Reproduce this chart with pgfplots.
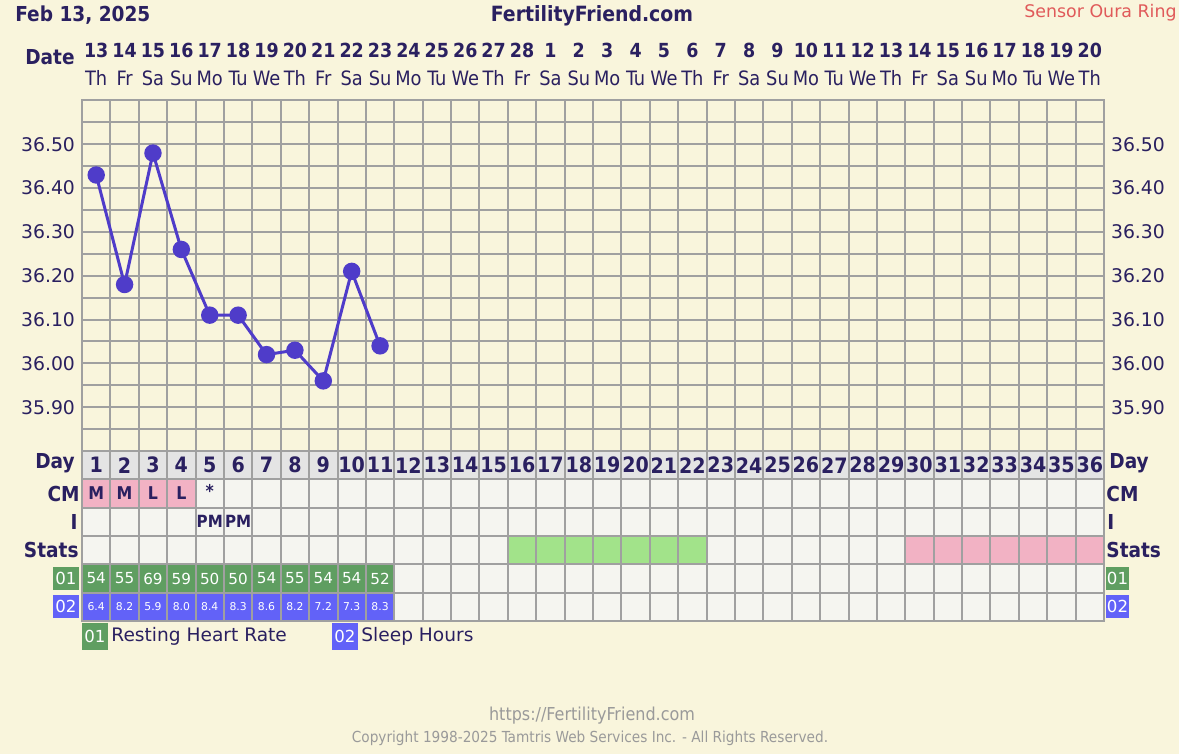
\documentclass[border=0pt]{standalone}
\usepackage{pgfplots}
\pgfplotsset{compat=1.18}
\usepackage{fontspec}
\setmainfont{DejaVu Sans}
\newfontfamily\cond{DejaVu Sans Condensed}
\definecolor{bg}{HTML}{F9F5DC}
\definecolor{navy}{HTML}{2A2060}
\definecolor{gridc}{HTML}{A0A0A0}
\definecolor{cellbg}{HTML}{F5F5F0}
\definecolor{daygray}{HTML}{E4E4E4}
\definecolor{pinkc}{HTML}{F2B2C4}
\definecolor{greenS}{HTML}{A2E38A}
\definecolor{green01}{HTML}{5F9E61}
\definecolor{blue02}{HTML}{6262F8}
\definecolor{linec}{HTML}{4F3CC9}
\definecolor{redt}{HTML}{E05A5A}
\definecolor{footg}{HTML}{9A9A9A}
\newcommand\fB[1]{\cond\bfseries\fontsize{#1}{#1}\selectfont}
\newcommand\fR[1]{\fontsize{#1}{#1}\selectfont}
\newcommand\fC[1]{\cond\fontsize{#1}{#1}\selectfont}
\begin{document}
\begin{tikzpicture}[x=1pt,y=1pt]
\fill[bg] (0,0) rectangle (589.5,377);
\useasboundingbox (0,0) rectangle (589.5,377);
% temperature axis
\begin{axis}[
  at={(41pt,151.5pt)}, anchor=south west, scale only axis,
  width=511pt, height=175.25pt,
  xmin=0.5, xmax=36.5, ymin=35.8, ymax=36.6,
  axis line style={draw=gridc, line width=1pt},
  xtick={1,...,36},
  xticklabels={Th,Fr,Sa,Su,Mo,Tu,We,Th,Fr,Sa,Su,Mo,Tu,We,Th,Fr,Sa,Su,Mo,Tu,We,Th,Fr,Sa,Su,Mo,Tu,We,Th,Fr,Sa,Su,Mo,Tu,We,Th},
  xticklabel pos=right,
  xticklabel style={anchor=base, yshift=7.4pt, font=\fC{9.9}, text=navy},
  minor xtick={0.5,1.5,...,36.5},
  ytick={35.9,36,36.1,36.2,36.3,36.4,36.5},
  minor ytick={35.8,35.85,35.9,35.95,36,36.05,36.1,36.15,36.2,36.25,36.3,36.35,36.4,36.45,36.5,36.55,36.6},
  xmajorgrids=false, xminorgrids=true, ymajorgrids=true, yminorgrids=true,
  grid style={draw=gridc, line width=1pt},
  minor grid style={draw=gridc, line width=1pt},
  major tick length=0pt, minor tick length=0pt,
  /pgf/number format/assume math mode=true,
  yticklabel style={/pgf/number format/.cd, fixed, fixed zerofill, precision=2, /tikz/.cd, font=\fR{9.4}, text=navy},
  clip=false,
]
\addplot[color=linec, line width=1.5pt, mark=*, mark size=3.6pt, mark options={fill=linec, draw=none}]
  coordinates {(1,36.43)(2,36.18)(3,36.48)(4,36.26)(5,36.11)(6,36.11)(7,36.02)(8,36.03)(9,35.96)(10,36.21)(11,36.04)};
\end{axis}
% overlay: date numbers and right labels
\begin{axis}[
  at={(41pt,151.5pt)}, anchor=south west, scale only axis,
  width=511pt, height=175.25pt,
  xmin=0.5, xmax=36.5, ymin=35.8, ymax=36.6,
  axis line style={draw=none},
  major tick length=0pt, minor tick length=0pt,
  xtick={1,...,36},
  xticklabels={13,14,15,16,17,18,19,20,21,22,23,24,25,26,27,28,1,2,3,4,5,6,7,8,9,10,11,12,13,14,15,16,17,18,19,20},
  xticklabel pos=right,
  xticklabel style={anchor=base, yshift=21.6pt, font=\fB{9.7}, text=navy},
  ytick={35.9,36,36.1,36.2,36.3,36.4,36.5},
  yticklabel pos=right,
  /pgf/number format/assume math mode=true,
  yticklabel style={/pgf/number format/.cd, fixed, fixed zerofill, precision=2, /tikz/.cd, font=\fR{9.4}, text=navy},
]
\end{axis}
% table axis
\begin{axis}[
  at={(41pt,66.5pt)}, anchor=south west, scale only axis,
  width=511pt, height=85pt,
  xmin=0.5, xmax=36.5, ymin=0, ymax=6,
  axis background/.style={fill=cellbg},
  axis on top,
  xtick={0.5,1.5,...,36.5}, ytick={0,1,2,3,4,5,6},
  xticklabels={}, yticklabels={},
  xmajorgrids=true, ymajorgrids=true,
  grid style={draw=gridc, line width=1pt},
  major tick length=0pt,
  axis line style={draw=gridc, line width=1pt},
  clip=false,
]
\addplot[fill=daygray, draw=none] coordinates {(0.5,5)(36.5,5)(36.5,6)(0.5,6)} -- cycle;
\addplot[fill=pinkc, draw=none] coordinates {(0.5,4)(4.5,4)(4.5,5)(0.5,5)} -- cycle;
\addplot[fill=greenS, draw=none] coordinates {(15.5,2)(22.5,2)(22.5,3)(15.5,3)} -- cycle;
\addplot[fill=pinkc, draw=none] coordinates {(29.5,2)(36.5,2)(36.5,3)(29.5,3)} -- cycle;
\addplot[fill=green01, draw=none] coordinates {(0.5,1)(11.5,1)(11.5,2)(0.5,2)} -- cycle;
\addplot[fill=blue02, draw=none] coordinates {(0.5,0)(11.5,0)(11.5,1)(0.5,1)} -- cycle;
% day numbers
\addplot[draw=none, mark=none, nodes near coords, point meta=explicit symbolic, nodes near coords align={center},
  every node near coord/.append style={font=\fB{10.6}, text=navy, inner sep=0pt}]
  coordinates {(1,5.5)[1](2,5.5)[2](3,5.5)[3](4,5.5)[4](5,5.5)[5](6,5.5)[6](7,5.5)[7](8,5.5)[8](9,5.5)[9](10,5.5)[10](11,5.5)[11](12,5.5)[12](13,5.5)[13](14,5.5)[14](15,5.5)[15](16,5.5)[16](17,5.5)[17](18,5.5)[18](19,5.5)[19](20,5.5)[20](21,5.5)[21](22,5.5)[22](23,5.5)[23](24,5.5)[24](25,5.5)[25](26,5.5)[26](27,5.5)[27](28,5.5)[28](29,5.5)[29](30,5.5)[30](31,5.5)[31](32,5.5)[32](33,5.5)[33](34,5.5)[34](35,5.5)[35](36,5.5)[36]};
% CM
\addplot[draw=none, mark=none, nodes near coords, point meta=explicit symbolic, nodes near coords align={center},
  every node near coord/.append style={font=\fB{8.8}, text=navy, inner sep=0pt}]
  coordinates {(1,4.5)[M](2,4.5)[M](3,4.5)[L](4,4.5)[L](5,4.58)[*]};
% I
\addplot[draw=none, mark=none, nodes near coords, point meta=explicit symbolic, nodes near coords align={center},
  every node near coord/.append style={font=\fB{8.4}, text=navy, inner sep=0pt}]
  coordinates {(5,3.5)[PM](6,3.5)[PM]};
% 01 resting heart rate
\addplot[draw=none, mark=none, nodes near coords, point meta=explicit symbolic, nodes near coords align={center},
  every node near coord/.append style={font=\fR{7.6}, text=white, inner sep=0pt}]
  coordinates {(1,1.5)[54](2,1.5)[55](3,1.5)[69](4,1.5)[59](5,1.5)[50](6,1.5)[50](7,1.5)[54](8,1.5)[55](9,1.5)[54](10,1.5)[54](11,1.5)[52]};
% 02 sleep hours
\addplot[draw=none, mark=none, nodes near coords, point meta=explicit symbolic, nodes near coords align={center},
  every node near coord/.append style={font=\fR{5.4}, text=white, inner sep=0pt}]
  coordinates {(1,0.5)[6.4](2,0.5)[8.2](3,0.5)[5.9](4,0.5)[8.0](5,0.5)[8.4](6,0.5)[8.3](7,0.5)[8.6](8,0.5)[8.2](9,0.5)[7.2](10,0.5)[7.3](11,0.5)[8.3]};
\end{axis}
% header texts
\node[anchor=base west, inner sep=0pt, text=navy, font=\fB{10.3}] at (7.5,366) {Feb 13, 2025};
\node[anchor=base, inner sep=0pt, text=navy, font=\fB{10.5}] at (296,366) {FertilityFriend.com};
\node[anchor=base east, inner sep=0pt, text=redt, font=\fR{8.7}] at (588.5,368.2) {Sensor Oura Ring};
\node[anchor=base east, inner sep=0pt, text=navy, font=\fB{10.3}] at (37.5,344.5) {Date};
% row labels left
\node[anchor=base east, inner sep=0pt, text=navy, font=\fB{10.3}] at (37.5,142.5) {Day};
\node[anchor=base east, inner sep=0pt, text=navy, font=\fB{10.3}] at (40,126) {CM};
\node[anchor=base east, inner sep=0pt, text=navy, font=\fB{10.3}] at (39,112) {I};
\node[anchor=base east, inner sep=0pt, text=navy, font=\fB{10.3}] at (39.5,98) {Stats};
% row labels right
\node[anchor=base west, inner sep=0pt, text=navy, font=\fB{10.3}] at (554.5,142.5) {Day};
\node[anchor=base west, inner sep=0pt, text=navy, font=\fB{10.3}] at (553,126) {CM};
\node[anchor=base west, inner sep=0pt, text=navy, font=\fB{10.3}] at (553.5,112) {I};
\node[anchor=base west, inner sep=0pt, text=navy, font=\fB{10.3}] at (553,98) {Stats};
% badges
\node[fill=green01, text=white, font=\fR{8.3}, minimum width=13pt, minimum height=11.5pt, inner sep=0pt] at (33,87.75) {01};
\node[fill=blue02, text=white, font=\fR{8.3}, minimum width=13pt, minimum height=11.5pt, inner sep=0pt] at (33,73.75) {02};
\node[fill=green01, text=white, font=\fR{8.3}, minimum width=11.5pt, minimum height=11.5pt, inner sep=0pt] at (558.75,87.75) {01};
\node[fill=blue02, text=white, font=\fR{8.3}, minimum width=11.5pt, minimum height=11.5pt, inner sep=0pt] at (558.75,73.75) {02};
% legend
\node[fill=green01, text=white, font=\fR{8.3}, minimum width=13pt, minimum height=13.5pt, inner sep=0pt] at (47.5,58.75) {01};
\node[anchor=base west, inner sep=0pt, text=navy, font=\fR{9.3}] at (55.5,56) {Resting Heart Rate};
\node[fill=blue02, text=white, font=\fR{8.3}, minimum width=13pt, minimum height=13.5pt, inner sep=0pt] at (172.5,58.75) {02};
\node[anchor=base west, inner sep=0pt, text=navy, font=\fR{9.3}] at (180.5,56) {Sleep Hours};
% footer
\node[anchor=base, inner sep=0pt, text=footg, font=\fC{8.9}] at (296,16.5) {https://FertilityFriend.com};
\node[anchor=base, inner sep=0pt, text=footg, font=\fC{7.6}] at (295,5.5) {Copyright 1998-2025 Tamtris Web Services Inc. - All Rights Reserved.};
\end{tikzpicture}
\end{document}
